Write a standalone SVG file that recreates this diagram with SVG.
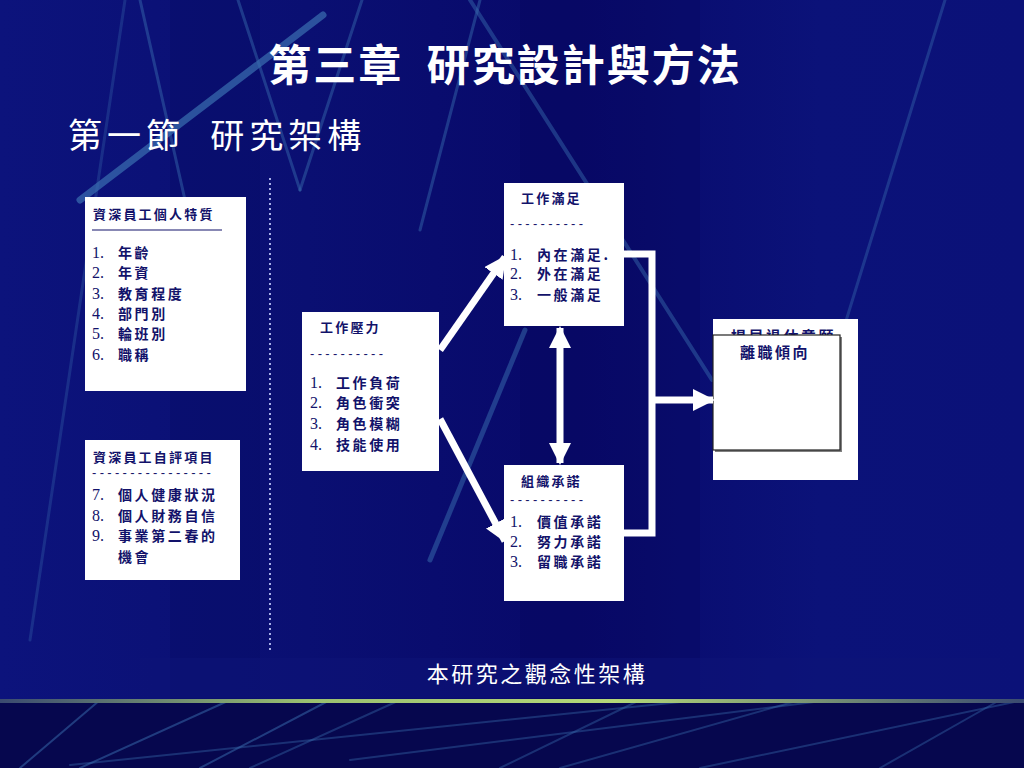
<svg xmlns="http://www.w3.org/2000/svg" width="1024" height="768" viewBox="0 0 1024 768">
<defs>
<linearGradient id="bg" x1="0" y1="0" x2="1" y2="0">
<stop offset="0" stop-color="#0c137c"/>
<stop offset="0.3" stop-color="#0a0f72"/>
<stop offset="0.55" stop-color="#08096a"/>
<stop offset="0.8" stop-color="#0b1279"/>
<stop offset="1" stop-color="#0b1178"/>
</linearGradient>
<linearGradient id="sep" x1="0" y1="0" x2="1" y2="0">
<stop offset="0" stop-color="#3a4a70"/>
<stop offset="0.3" stop-color="#9ac070"/>
<stop offset="0.6" stop-color="#b4d878"/>
<stop offset="1" stop-color="#3a4a70"/>
</linearGradient>
<clipPath id="outerclip"><rect x="713" y="319" width="145" height="161"/></clipPath>
<marker id="ah" viewBox="0 0 22 22" refX="20" refY="11" markerWidth="22" markerHeight="22" markerUnits="userSpaceOnUse" orient="auto-start-reverse">
<path d="M0,0 L22,11 L0,22 Z" fill="#ffffff"/>
</marker>
<style>
.box{fill:#ffffff;}
.h{font-family:"Noto Sans CJK TC","Noto Sans CJK SC",sans-serif;font-size:13px;letter-spacing:2.2px;fill:#12126a;font-weight:600;}
.h2{font-family:"Noto Sans CJK TC","Noto Sans CJK SC",sans-serif;font-size:15px;letter-spacing:2.5px;fill:#12126a;font-weight:600;}
.t{font-family:"Noto Sans CJK TC","Noto Sans CJK SC",sans-serif;font-size:14px;letter-spacing:2.6px;fill:#12126a;font-weight:600;}
.n{font-family:"Liberation Serif","Noto Sans CJK TC",serif;font-size:16px;fill:#12126a;}
.d{font-family:"Liberation Sans",sans-serif;font-size:13px;letter-spacing:3.3px;fill:#12126a;}
.streak{stroke:#3a6fb0;fill:none;stroke-linecap:round;}
.conn{stroke:#ffffff;stroke-width:7;fill:none;}
.w{font-family:"Noto Sans CJK TC","Noto Sans CJK SC",sans-serif;fill:#ffffff;}
</style>
</defs>

<g id="background">
<rect x="0" y="0" width="1024" height="768" fill="url(#bg)"/>
<rect x="170" y="0" width="90" height="700" fill="#070a60" opacity="0.3"/>
<rect x="520" y="0" width="180" height="700" fill="#060858" opacity="0.3"/>
<rect x="0" y="700" width="1024" height="68" fill="#06074e"/>
<rect x="140" y="658" width="860" height="40" fill="#0d1478" opacity="0.5"/>
<line class="streak" x1="125" y1="0" x2="30" y2="640" stroke-width="3" opacity="0.3"/>
<line class="streak" x1="323" y1="15" x2="80" y2="200" stroke-width="7" opacity="0.7"/>
<line class="streak" x1="140" y1="0" x2="185" y2="200" stroke-width="3" opacity="0.45"/>
<line class="streak" x1="238" y1="0" x2="300" y2="190" stroke-width="3" opacity="0.45"/>
<line class="streak" x1="362" y1="0" x2="300" y2="190" stroke-width="3" opacity="0.45"/>
<line class="streak" x1="480" y1="0" x2="420" y2="230" stroke-width="3" opacity="0.45"/>
<line class="streak" x1="945" y1="0" x2="800" y2="470" stroke-width="3" opacity="0.4"/>
<line class="streak" x1="470" y1="0" x2="712" y2="380" stroke-width="4" opacity="0.45"/>
<line class="streak" x1="525" y1="330" x2="430" y2="560" stroke-width="5" opacity="0.5"/>
<line class="streak" x1="20" y1="768" x2="100" y2="700" stroke-width="2" opacity="0.5"/>
<line class="streak" x1="80" y1="768" x2="230" y2="700" stroke-width="2" opacity="0.5"/>
<line class="streak" x1="200" y1="768" x2="330" y2="700" stroke-width="2" opacity="0.5"/>
<line class="streak" x1="70" y1="765" x2="700" y2="700" stroke-width="2" opacity="0.4"/>
<line class="streak" x1="250" y1="768" x2="400" y2="700" stroke-width="2" opacity="0.4"/>
<line class="streak" x1="350" y1="760" x2="830" y2="700" stroke-width="2" opacity="0.4"/>
<line class="streak" x1="500" y1="768" x2="640" y2="700" stroke-width="2" opacity="0.4"/>
<line class="streak" x1="560" y1="768" x2="800" y2="700" stroke-width="2" opacity="0.4"/>
<line class="streak" x1="700" y1="768" x2="1024" y2="700" stroke-width="2" opacity="0.4"/>
<line class="streak" x1="880" y1="768" x2="1000" y2="700" stroke-width="2" opacity="0.4"/>
<rect x="0" y="699" width="1024" height="4" fill="url(#sep)"/>
</g>

<g id="titles">
<text class="w" x="505" y="81" text-anchor="middle" font-size="43" font-weight="bold" letter-spacing="2" xml:space="preserve">第三章  研究設計與方法</text>
<text class="w" x="68" y="148" font-size="34" letter-spacing="5" xml:space="preserve">第一節  研究架構</text>
<text class="w" x="537" y="682" text-anchor="middle" font-size="22" letter-spacing="2.5">本研究之觀念性架構</text>
</g>

<g id="divider">
<line x1="270" y1="178" x2="270" y2="652" stroke="#a8b0e8" stroke-width="2" stroke-dasharray="2,3"/>
</g>

<g id="node-personal">
<rect class="box" x="85" y="197" width="161" height="194"/>
<text class="h" x="93" y="219">資深員工個人特質</text>
<line x1="92" y1="230" x2="222" y2="230" stroke="#12126a" stroke-width="1.2"/>
<text class="n" x="92" y="258">1.</text><text class="t" x="118" y="258">年齡</text>
<text class="n" x="92" y="278">2.</text><text class="t" x="118" y="278">年資</text>
<text class="n" x="92" y="299">3.</text><text class="t" x="118" y="299">教育程度</text>
<text class="n" x="92" y="319">4.</text><text class="t" x="118" y="319">部門別</text>
<text class="n" x="92" y="339">5.</text><text class="t" x="118" y="339">輪班別</text>
<text class="n" x="92" y="360">6.</text><text class="t" x="118" y="360">職稱</text>
</g>

<g id="node-selfeval">
<rect class="box" x="85" y="440" width="155" height="140"/>
<text class="h" x="93" y="462">資深員工自評項目</text>
<text class="d" x="92" y="477">----------------</text>
<text class="n" x="92" y="500">7.</text><text class="t" x="118" y="500">個人健康狀況</text>
<text class="n" x="92" y="521">8.</text><text class="t" x="118" y="521">個人財務自信</text>
<text class="n" x="92" y="541">9.</text><text class="t" x="118" y="541">事業第二春的</text>
<text class="t" x="118" y="562">機會</text>
</g>

<g id="node-stress">
<rect class="box" x="302" y="312" width="137" height="159"/>
<text class="h" x="320" y="332">工作壓力</text>
<text class="d" x="310" y="358">----------</text>
<text class="n" x="310" y="388">1.</text><text class="t" x="336" y="388">工作負荷</text>
<text class="n" x="310" y="408">2.</text><text class="t" x="336" y="408">角色衝突</text>
<text class="n" x="310" y="429">3.</text><text class="t" x="336" y="429">角色模糊</text>
<text class="n" x="310" y="450">4.</text><text class="t" x="336" y="450">技能使用</text>
</g>

<g id="node-satisfaction">
<rect class="box" x="504" y="183" width="120" height="143"/>
<text class="h" x="521" y="203">工作滿足</text>
<text class="d" x="510" y="228">----------</text>
<text class="n" x="510" y="260">1.</text><text class="t" x="537" y="260">內在滿足.</text>
<text class="n" x="510" y="279">2.</text><text class="t" x="537" y="279">外在滿足</text>
<text class="n" x="510" y="300">3.</text><text class="t" x="537" y="300">一般滿足</text>
</g>

<g id="node-commitment">
<rect class="box" x="504" y="465" width="120" height="136"/>
<text class="h" x="521" y="486">組織承諾</text>
<text class="d" x="510" y="504">----------</text>
<text class="n" x="510" y="527">1.</text><text class="t" x="537" y="527">價值承諾</text>
<text class="n" x="510" y="547">2.</text><text class="t" x="537" y="547">努力承諾</text>
<text class="n" x="510" y="567">3.</text><text class="t" x="537" y="567">留職承諾</text>
</g>

<g id="node-outcome">
<rect class="box" x="713" y="319" width="145" height="161"/>
<text class="h2" x="731" y="342" letter-spacing="3" clip-path="url(#outerclip)">提早退休意願</text>
<rect x="715" y="337" width="127" height="115" fill="#808080"/>
<rect x="713" y="335" width="127" height="115" fill="#ffffff" stroke="#222222" stroke-width="1.2"/>
<text class="h2" x="740" y="358">離職傾向</text>
</g>

<g id="connectors">
<line class="conn" x1="440" y1="350" x2="505" y2="257" marker-end="url(#ah)"/>
<line class="conn" x1="440" y1="419" x2="505" y2="541" marker-end="url(#ah)"/>
<line class="conn" x1="560" y1="328" x2="560" y2="463" marker-start="url(#ah)" marker-end="url(#ah)"/>
<polyline class="conn" points="624,254 652,254 652,533 624,533" stroke-width="6"/>
<line class="conn" x1="652" y1="400" x2="713" y2="400" stroke-width="6" marker-end="url(#ah)"/>
</g>
</svg>
